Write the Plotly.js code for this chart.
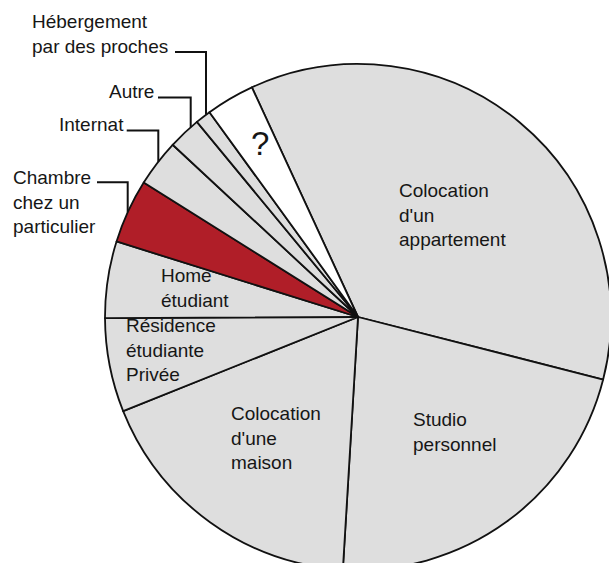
<!DOCTYPE html>
<html>
<head>
<meta charset="utf-8">
<script src="https://cdn.plot.ly/plotly-3.0.1.min.js"></script>
<style>
html, body { margin: 0; padding: 0; overflow: hidden; background: #fff; }
#chart { width: 611px; height: 570px; }
</style>
</head>
<body>
<div id="chart"></div>
<script>
// ---- Data (share of angle, in %) ----
const categories = [
  "Colocation d'un appartement",
  "Studio personnel",
  "Colocation d'une maison",
  "Résidence étudiante Privée",
  "Home étudiant",
  "Chambre chez un particulier",
  "Internat",
  "Autre",
  "Hébergement par des proches",
  "?"
];
const values = [35.9, 22.0, 18.0, 6.0, 4.9, 4.1, 3.0, 2.1, 1.0, 3.1];
const sliceColors = ["#dedede", "#dedede", "#dedede", "#dedede", "#dedede",
                     "#b01e28", "#dedede", "#dedede", "#dedede", "#ffffff"];

// Inside labels (text)
const insideLabels = [
  "Colocation<br>d'un<br>appartement",
  "Studio<br>personnel",
  "Colocation<br>d'une<br>maison",
  "Résidence<br>étudiante<br>Privée",
  "Home<br>étudiant",
  "?"
];
// Outside labels (text)
const outsideLabels = [
  "Hébergement<br>par des proches",
  "Autre",
  "Internat",
  "Chambre<br>chez un<br>particulier"
];

// ---- Layout geometry ----
const W = 611, H = 570;
const M = {l: 105, r: 0, t: 64, b: 0};
const PW = W - M.l - M.r, PH = H - M.t - M.b;
const CX = M.l + PW / 2, CY = M.t + PH / 2, R = Math.min(PW, PH) / 2;
const px = x => (x - M.l) / PW;
const py = y => 1 - (y - M.t) / PH;
const rimY = x => CY - Math.sqrt(R * R - (x - CX) * (x - CX));

const FONT = "Liberation Sans, Arial, Helvetica, sans-serif";
const FS = 19;
const TXT = "#161616";

// positions of labels (pixels): [x left, y middle]
const insidePos = [[397, 215], [411, 432], [229, 438], [124, 350], [159, 288], [260, 143]];
const outsidePos = [[30, 34], [107, 91], [57, 125], [11, 202]];
// leader elbows: [x start, y horizontal, x vertical]
const leaders = [[175, 52, 206], [158, 97.5, 190.7], [126.7, 130.5, 158.3], [97, 182.3, 127.7]];

const annotations = [];
insideLabels.forEach((t, i) => {
  annotations.push({
    xref: "paper", yref: "paper", x: px(insidePos[i][0]), y: py(insidePos[i][1]),
    xanchor: t === "?" ? "center" : "left", yanchor: "middle", align: "left",
    text: t, showarrow: false,
    font: {family: FONT, size: t === "?" ? 33 : FS, color: TXT}
  });
});
outsideLabels.forEach((t, i) => {
  annotations.push({
    xref: "paper", yref: "paper", x: px(outsidePos[i][0]), y: py(outsidePos[i][1]),
    xanchor: "left", yanchor: "middle", align: "left",
    text: t, showarrow: false,
    font: {family: FONT, size: FS, color: TXT}
  });
});

const shapes = leaders.map(([x0, yh, xv]) => ({
  type: "path", xref: "paper", yref: "paper",
  path: `M ${px(x0)} ${py(yh)} L ${px(xv)} ${py(yh)} L ${px(xv)} ${py(rimY(xv))}`,
  line: {color: "#111", width: 2}
}));

const trace = {
  type: "pie",
  labels: categories,
  values: values,
  sort: false,
  direction: "clockwise",
  rotation: -24.8,
  textinfo: "none",
  hoverinfo: "none",
  showlegend: false,
  marker: {colors: sliceColors, line: {color: "#111", width: 1.8}},
  domain: {x: [0, 1], y: [0, 1]}
};

const layout = {
  width: W, height: H,
  margin: M,
  paper_bgcolor: "#ffffff",
  plot_bgcolor: "#ffffff",
  showlegend: false,
  annotations: annotations,
  shapes: shapes
};

Plotly.newPlot("chart", [trace], layout, {displayModeBar: false, staticPlot: true});
</script>
</body>
</html>
